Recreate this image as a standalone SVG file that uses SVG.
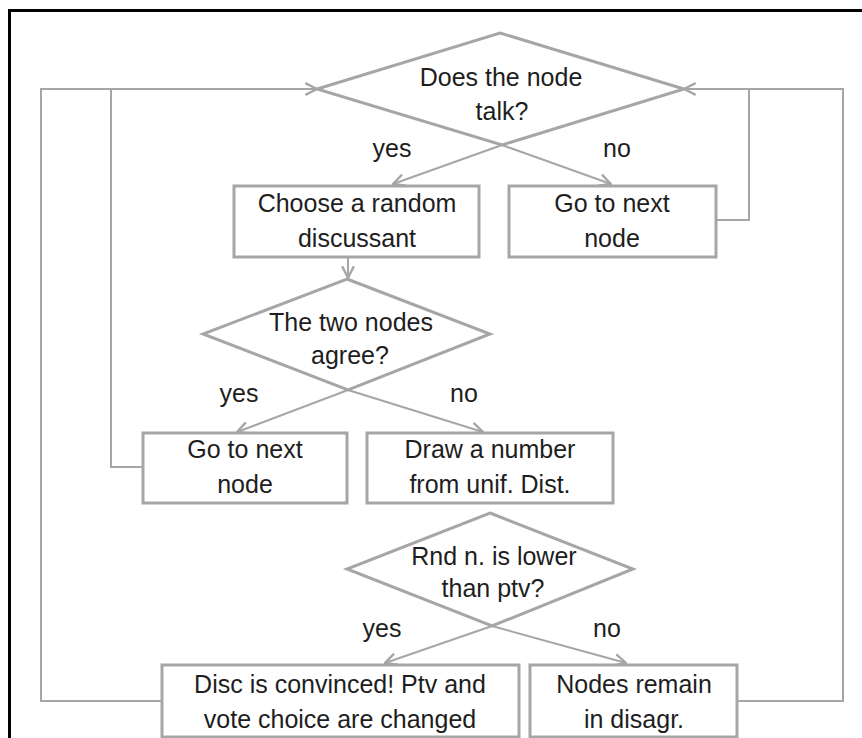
<svg xmlns="http://www.w3.org/2000/svg" width="862" height="738" viewBox="0 0 862 738">
  <style>
    .shape { fill: #ffffff; stroke: #a6a6a6; stroke-width: 3; }
    .conn { fill: none; stroke: #a6a6a6; stroke-width: 2; }
    .lbl { font-family: "Liberation Sans", Arial, sans-serif; font-size: 25px; fill: #1e1e1e; text-anchor: middle; }
  </style>
  <defs>
    <marker id="arrow" markerUnits="userSpaceOnUse" markerWidth="14" markerHeight="14" viewBox="0 0 12 12" refX="11" refY="6" orient="auto">
      <path d="M1,1 L11,6 L1,11" fill="none" stroke="#a6a6a6" stroke-width="2"/>
    </marker>
  </defs>

  <rect x="0" y="0" width="862" height="738" fill="#ffffff"/>
  <!-- page frame -->
  <path d="M9.5,738 V10.5 H862" fill="none" stroke="#000000" stroke-width="3"/>

  <!-- connectors -->
  <g id="connectors">
    <!-- decision branches -->
    <line class="conn" x1="502" y1="145" x2="393" y2="184" marker-end="url(#arrow)"/>
    <line class="conn" x1="502" y1="145" x2="611" y2="184" marker-end="url(#arrow)"/>
    <line class="conn" x1="348" y1="257" x2="348" y2="278" marker-end="url(#arrow)"/>
    <line class="conn" x1="348" y1="390" x2="237" y2="432" marker-end="url(#arrow)"/>
    <line class="conn" x1="348" y1="390" x2="483" y2="432" marker-end="url(#arrow)"/>
    <line class="conn" x1="492" y1="626" x2="385" y2="663" marker-end="url(#arrow)"/>
    <line class="conn" x1="492" y1="626" x2="626" y2="663" marker-end="url(#arrow)"/>
    <!-- loop-back lines -->
    <polyline class="conn" points="143,467 111,467 111,89"/>
    <polyline class="conn" points="162,701 41,701 41,89 317,89" marker-end="url(#arrow)"/>
    <polyline class="conn" points="716,220 749,220 749,89"/>
    <polyline class="conn" points="737,701 843,701 843,89 684,89" marker-end="url(#arrow)"/>
  </g>

  <g id="talk-decision">
    <polygon class="shape" points="500,33 684,89 502,145 317,89"/>
    <text class="lbl" x="501" y="86">Does the node</text>
    <text class="lbl" x="502" y="120">talk?</text>
  </g>
  <text class="lbl" x="392" y="157">yes</text>
  <text class="lbl" x="617" y="157">no</text>

  <g id="choose-discussant">
    <rect class="shape" x="234" y="186" width="245" height="71"/>
    <text class="lbl" x="357" y="212">Choose a random</text>
    <text class="lbl" x="357" y="247">discussant</text>
  </g>

  <g id="next-node-1">
    <rect class="shape" x="509" y="186" width="207" height="71"/>
    <text class="lbl" x="612" y="212">Go to next</text>
    <text class="lbl" x="612" y="247">node</text>
  </g>

  <g id="agree-decision">
    <polygon class="shape" points="347,279 490,334 348,390 203,334"/>
    <text class="lbl" x="351" y="331">The two nodes</text>
    <text class="lbl" x="350" y="364">agree?</text>
  </g>
  <text class="lbl" x="239" y="402">yes</text>
  <text class="lbl" x="464" y="402">no</text>

  <g id="next-node-2">
    <rect class="shape" x="143" y="433" width="204" height="70"/>
    <text class="lbl" x="245" y="458">Go to next</text>
    <text class="lbl" x="245" y="493">node</text>
  </g>

  <g id="draw-number">
    <rect class="shape" x="367" y="433" width="246" height="70"/>
    <text class="lbl" x="490" y="458">Draw a number</text>
    <text class="lbl" x="490" y="493">from unif. Dist.</text>
  </g>

  <g id="ptv-decision">
    <polygon class="shape" points="490,513 633,569 492,626 347,569"/>
    <text class="lbl" x="494" y="565">Rnd n. is lower</text>
    <text class="lbl" x="493" y="597">than ptv?</text>
  </g>
  <text class="lbl" x="382" y="637">yes</text>
  <text class="lbl" x="607" y="637">no</text>

  <g id="convinced">
    <rect class="shape" x="162" y="665" width="357" height="72"/>
    <text class="lbl" x="340" y="693">Disc is convinced! Ptv and</text>
    <text class="lbl" x="340" y="728">vote choice are changed</text>
  </g>

  <g id="disagreement">
    <rect class="shape" x="530" y="665" width="207" height="72"/>
    <text class="lbl" x="634" y="693">Nodes remain</text>
    <text class="lbl" x="634" y="728">in disagr.</text>
  </g>
</svg>
